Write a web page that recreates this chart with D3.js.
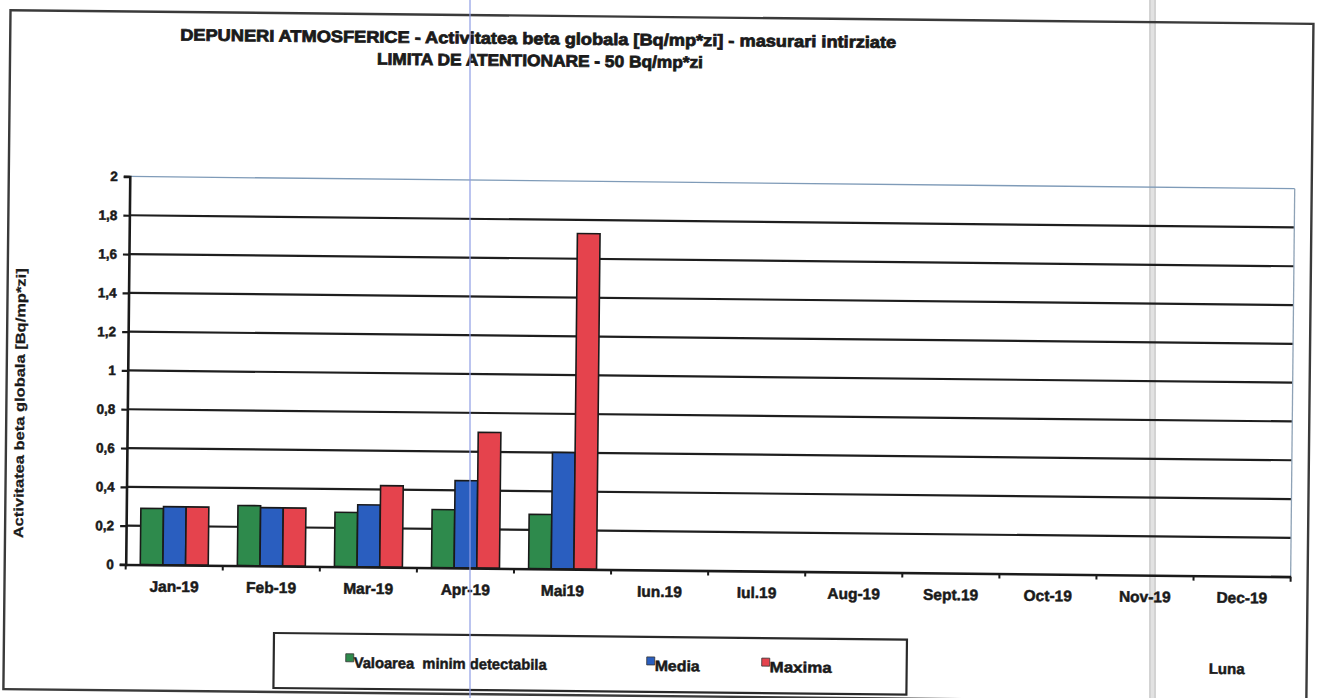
<!DOCTYPE html>
<html>
<head>
<meta charset="utf-8">
<script src="https://cdn.jsdelivr.net/npm/d3@7"></script>
<style>
  html, body { margin: 0; padding: 0; background: #fff; }
  svg { display: block; }
  text { font-family: "Liberation Sans", Arial, sans-serif; font-weight: bold; fill: #1a1a1a; white-space: pre; }
  .heavy { stroke: #1a1a1a; stroke-width: 0.5px; }
  .xheavy { stroke: #1a1a1a; stroke-width: 0.8px; }
</style>
</head>
<body>
<svg id="chart" width="1317" height="698"></svg>
<script>
const months = ["Jan-19","Feb-19","Mar-19","Apr-19","Mai19","Iun.19","Iul.19","Aug-19","Sept.19","Oct-19","Nov-19","Dec-19"];
const minDetect = [0.29, 0.31, 0.28, 0.30, 0.28];
const media     = [0.30, 0.30, 0.32, 0.45, 0.60];
const maxima    = [0.30, 0.30, 0.42, 0.70, 1.73];
const seriesNames = ["Valoarea  minim detectabila", "Media", "Maxima"];
const yTicks = [0, 0.2, 0.4, 0.6, 0.8, 1, 1.2, 1.4, 1.6, 1.8, 2];
const titleLines = ["DEPUNERI ATMOSFERICE - Activitatea beta globala [Bq/mp*zi] - masurari intirziate",
                    "LIMITA DE ATENTIONARE - 50 Bq/mp*zi"];
const yTitle = "Activitatea beta globala [Bq/mp*zi]";
const xTitle = "Luna";

const colors = ["#2e8a4c", "#2a5ebf", "#e5434d"];

const svg = d3.select("#chart");
const W = 1317, H = 698;

// scan artifacts (vertical lines)
svg.append("rect").attr("x", 1149).attr("y", 0).attr("width", 7).attr("height", H).attr("fill", "#e2e2e2");
svg.append("line").attr("x1", 1150).attr("x2", 1150).attr("y1", 0).attr("y2", H).attr("stroke", "#c4c4c4").attr("stroke-width", 1);
svg.append("line").attr("x1", 1155).attr("x2", 1155).attr("y1", 0).attr("y2", H).attr("stroke", "#c4c4c4").attr("stroke-width", 1);

const g = svg.append("g").attr("transform", "rotate(0.6, 658, 349)");

// outer frame
g.append("rect").attr("x", 7).attr("y", 17).attr("width", 1303).attr("height", 679)
  .attr("fill", "none").attr("stroke", "#3a3a3a").attr("stroke-width", 2.4);

const pLeft = 128, pRight = 1293, pTop = 182, pBottom = 570;

const x = d3.scaleBand().domain(months).range([pLeft, pRight]).paddingInner(0.3).paddingOuter(0.15);
const step = x.step();
const xs = d3.scaleBand().domain(d3.range(3)).range([0, x.bandwidth()]);
const y = d3.scaleLinear().domain([0, 2]).range([pBottom, pTop]);

// gridlines
g.append("g").selectAll("line").data(yTicks.filter(t => t > 0 && t < 2)).join("line")
  .attr("x1", pLeft).attr("x2", pRight).attr("y1", d => y(d)).attr("y2", d => y(d))
  .attr("stroke", "#1e1e1e").attr("stroke-width", 2.2);
// top and right plot border
g.append("line").attr("x1", pLeft).attr("x2", pRight).attr("y1", y(2)).attr("y2", y(2))
  .attr("stroke", "#7f9bb8").attr("stroke-width", 1.3);
g.append("line").attr("x1", pRight).attr("x2", pRight).attr("y1", y(2)).attr("y2", y(0))
  .attr("stroke", "#8ea2b6").attr("stroke-width", 1.3);

// bars
const series = [minDetect, media, maxima];
series.forEach((vals, si) => {
  g.append("g").selectAll("rect").data(vals).join("rect")
    .attr("x", (d, i) => x(months[i]) + xs(si))
    .attr("width", xs.bandwidth())
    .attr("y", d => y(d))
    .attr("height", d => y(0) - y(d))
    .attr("fill", colors[si])
    .attr("stroke", "#1a1a1a").attr("stroke-width", 1.6);
});

// y axis
const yAxis = d3.axisLeft(y).tickValues(yTicks).tickSize(6).tickPadding(6)
  .tickFormat(d => String(d).replace(".", ","));
const ya = g.append("g").attr("transform", `translate(${pLeft},0)`).call(yAxis);
ya.select(".domain").attr("stroke", "#1a1a1a").attr("stroke-width", 2.6);
ya.selectAll(".tick line").attr("stroke", "#1a1a1a").attr("stroke-width", 2.2);
ya.selectAll(".tick text").attr("font-size", 13.5).attr("font-weight", "bold").attr("class", "heavy")
  .attr("font-family", "Liberation Sans, Arial, sans-serif").attr("fill", "#1a1a1a");

// x axis
const xAxis = d3.axisBottom(x).tickSize(0).tickPadding(16);
const xa = g.append("g").attr("transform", `translate(0,${pBottom})`).call(xAxis);
xa.select(".domain").attr("stroke", "#1a1a1a").attr("stroke-width", 2.6);
xa.selectAll(".tick text").attr("font-size", 15.5).attr("font-weight", "bold").attr("class", "heavy")
  .attr("font-family", "Liberation Sans, Arial, sans-serif").attr("fill", "#1a1a1a");
// category boundary ticks
const bounds = months.map(m => x(m) - step * x.paddingInner() / 2);
bounds.push(pRight);
g.append("g").selectAll("line").data(bounds).join("line")
  .attr("x1", d => d).attr("x2", d => d).attr("y1", pBottom).attr("y2", pBottom + 5)
  .attr("stroke", "#1a1a1a").attr("stroke-width", 2);

// titles
g.append("text").attr("class", "xheavy").attr("x", 535).attr("y", 45.5).attr("text-anchor", "middle")
  .attr("font-size", 16.5).attr("textLength", 716).attr("lengthAdjust", "spacingAndGlyphs")
  .text(titleLines[0]);
g.append("text").attr("class", "xheavy").attr("x", 537).attr("y", 67.5).attr("text-anchor", "middle")
  .attr("font-size", 16.5).attr("textLength", 326).attr("lengthAdjust", "spacingAndGlyphs")
  .text(titleLines[1]);

// y title
g.append("text").attr("class", "heavy").attr("transform", "translate(25,410) rotate(-90)").attr("text-anchor", "middle")
  .attr("font-size", 13.5).attr("textLength", 270).attr("lengthAdjust", "spacingAndGlyphs")
  .style("stroke-width", "0.25px")
  .text(yTitle);

// legend
g.append("rect").attr("x", 277).attr("y", 637).attr("width", 633).attr("height", 55)
  .attr("fill", "#fff").attr("stroke", "#2a2a2a").attr("stroke-width", 2.2);
const legendX = [349, 650, 765];
const legendW = [193, 45, 62];
seriesNames.forEach((n, i) => {
  g.append("rect").attr("x", legendX[i]).attr("y", 657).attr("width", 8).attr("height", 8)
    .attr("fill", colors[i]).attr("stroke", "#333").attr("stroke-width", 0.8);
  g.append("text").attr("class", "heavy").attr("x", legendX[i] + 8).attr("y", 671).attr("font-size", 15)
    .attr("textLength", legendW[i]).attr("lengthAdjust", "spacingAndGlyphs").text(n);
});

// x title
g.append("text").attr("class", "heavy").attr("x", 1230).attr("y", 668).attr("text-anchor", "middle")
  .attr("font-size", 15).text(xTitle);

// blue scan line
svg.append("line").attr("x1", 470).attr("x2", 470).attr("y1", 0).attr("y2", H)
  .attr("stroke", "#8f9de6").attr("stroke-width", 2).attr("opacity", 0.6);
</script>
</body>
</html>
